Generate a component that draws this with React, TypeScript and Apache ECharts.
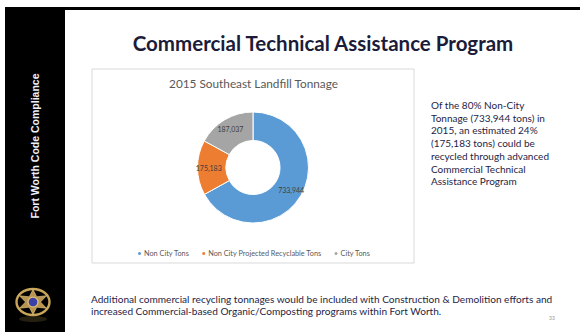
import React, { useEffect, useRef } from "react";
import * as echarts from "echarts";

const categories = ["Non City Tons", "Non City Projected Recyclable Tons", "City Tons"];
const values = [733944, 175183, 187037];
const sliceColors = ["#5b9bd5", "#ed7d31", "#a5a5a5"];

const slideTitle = "Commercial Technical Assistance Program";
const chartTitle = "2015 Southeast Landfill Tonnage";
const sideText = "Fort Worth Code Compliance";
const noteLines = [
  "Of the 80% Non-City",
  "Tonnage (733,944 tons) in",
  "2015, an estimated 24%",
  "(175,183 tons) could be",
  "recycled through advanced",
  "Commercial Technical",
  "Assistance Program",
];
const footerLines = [
  "Additional commercial recycling tonnages would be included with Construction & Demolition efforts and",
  "increased Commercial-based Organic/Composting programs within Fort Worth.",
];
const pageNumber = "33";

function starPoints(cx: number, cy: number, rOut: number, rIn: number, n: number, sx: number) {
  const pts: number[][] = [];
  for (let i = 0; i < n * 2; i++) {
    const a = (Math.PI * i) / n - Math.PI / 2;
    const r = i % 2 === 0 ? rOut : rIn;
    pts.push([cx + Math.cos(a) * r * sx, cy + Math.sin(a) * r]);
  }
  return pts;
}

export default function App() {
  const ref = useRef<HTMLDivElement>(null);
  useEffect(() => {
    if (!ref.current) return;
    const chart = echarts.init(ref.current, null, { renderer: "svg" });
    const fmt = (v: number) => v.toLocaleString("en-US");
    const bx = 33, by = 302;
    chart.setOption({
      animation: false,
      backgroundColor: "#ffffff",
      legend: {
        data: categories,
        left: 131,
        top: 245,
        icon: "circle",
        itemWidth: 5,
        itemHeight: 5,
        itemGap: 11,
        textStyle: { fontFamily: "Lato", fontSize: 7.3, color: "#595959", padding: [0, 0, 0, -3] },
      },
      series: [
        {
          type: "pie",
          center: [253, 167.5],
          radius: [27, 55.5],
          startAngle: 90,
          clockwise: true,
          itemStyle: { borderColor: "#ffffff", borderWidth: 1 },
          label: {
            show: true,
            position: "inside",
            fontFamily: "Lato",
            fontSize: 7,
            color: "#404040",
            formatter: (p: any) => fmt(p.value),
          },
          labelLine: { show: false },
          emphasis: { disabled: true },
          data: categories.map((c, i) => ({ name: c, value: values[i], itemStyle: { color: sliceColors[i] } })),
        },
      ],
      graphic: [
        { type: "rect", z: -10, shape: { x: 5, y: 7, width: 575, height: 3 }, style: { fill: "#000" } },
        { type: "rect", z: -10, shape: { x: 5, y: 7, width: 60, height: 325 }, style: { fill: "#000" } },
        {
          type: "text",
          x: 35,
          y: 146,
          rotation: Math.PI / 2,
          style: {
            text: sideText,
            fill: "#eef2ff",
            font: "bold 10.5px 'Liberation Sans', Arial, sans-serif",
            align: "center",
            verticalAlign: "middle",
          },
        },
        {
          type: "rect",
          z: -5,
          shape: { x: 92, y: 69, width: 322, height: 194 },
          style: { fill: "none", stroke: "#d9d9d9", lineWidth: 1 },
        },
        {
          type: "text",
          x: 323,
          y: 43,
          style: {
            text: slideTitle,
            fill: "#1b1b3a",
            font: "bold 20.5px Lato, sans-serif",
            align: "center",
            verticalAlign: "middle",
          },
        },
        {
          type: "text",
          x: 253.5,
          y: 83,
          style: {
            text: chartTitle,
            fill: "#595959",
            font: "11.8px Lato, sans-serif",
            align: "center",
            verticalAlign: "middle",
          },
        },
        ...noteLines.map((t, i) => ({
          type: "text",
          x: 431,
          y: 105 + i * 12.7,
          style: { text: t, fill: "#1e1e46", font: "10px Lato, sans-serif", verticalAlign: "middle" },
        })),
        ...footerLines.map((t, i) => ({
          type: "text",
          x: 91,
          y: 299 + i * 11.5,
          style: { text: t, fill: "#1e1e46", font: "10.1px Lato, sans-serif", verticalAlign: "middle" },
        })),
        {
          type: "text",
          x: 552,
          y: 318,
          style: { text: pageNumber, fill: "#9a9a9a", font: "5px Lato, sans-serif", align: "center", verticalAlign: "middle" },
        },
        // badge
        { type: "ellipse", shape: { cx: bx, cy: by + 17, rx: 14, ry: 3 }, style: { fill: "#6b5a30", opacity: 0.35 } },
        { type: "ellipse", shape: { cx: bx, cy: by, rx: 16.5, ry: 13 }, style: { fill: "none", stroke: "#c8a55a", lineWidth: 2.4 } },
        { type: "polygon", shape: { points: starPoints(bx, by, 12.5, 6, 6, 1.25) }, style: { fill: "#b8944e", stroke: "#e3c98a", lineWidth: 0.6 } },
        { type: "circle", shape: { cx: bx, cy: by, r: 5.6 }, style: { fill: "#d9bd78" } },
        { type: "circle", shape: { cx: bx, cy: by, r: 4.3 }, style: { fill: "#3b3fa8" } },
      ],
    });
    return () => chart.dispose();
  }, []);
  return <div ref={ref} style={{ position: "fixed", left: 0, top: 0, width: 580, height: 332 }} />;
}
